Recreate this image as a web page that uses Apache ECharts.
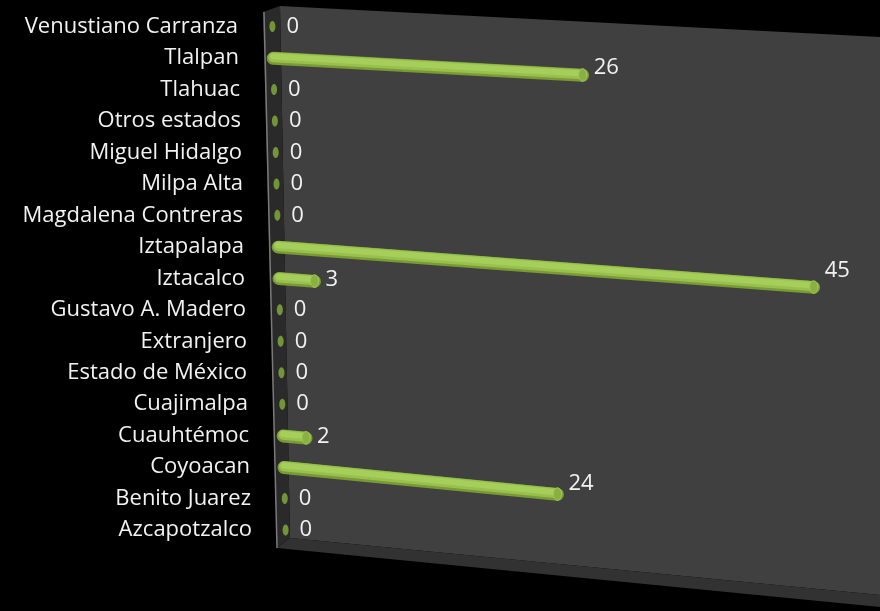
<!DOCTYPE html>
<html>
<head>
<meta charset="utf-8">
<script src="https://cdn.jsdelivr.net/npm/echarts@6/dist/echarts.min.js"></script>
<style>
html,body{margin:0;padding:0;background:#000;}
#chart{width:880px;height:611px;}
</style>
</head>
<body>
<div id="chart"></div>
<script>
// Categories, top to bottom
var categories = ['Venustiano Carranza','Tlalpan','Tlahuac','Otros estados','Miguel Hidalgo','Milpa Alta','Magdalena Contreras','Iztapalapa','Iztacalco','Gustavo A. Madero','Extranjero','Estado de México','Cuajimalpa','Cuauhtémoc','Coyoacan','Benito Juarez','Azcapotzalco'];
var values = [0,26,0,0,0,0,0,45,3,0,0,0,0,2,24,0,0];

var chart = echarts.init(document.getElementById('chart'), null, {renderer:'canvas'});

var labelFont = '"Open Sans", "Noto Sans", sans-serif';
var rich = {};
for (var i = 0; i < categories.length; i++) {
  var t = (i + 0.5) / categories.length;
  rich['r' + i] = {padding: [0, Math.round(14 * (1 - t)), 0, 0], color: '#f2f2f2', fontSize: 22, fontFamily: labelFont};
}

function renderItem(params, api) {
  var val = api.value(0), cat = api.value(1);
  var cs = params.coordSys;
  var p0 = api.coord([0, cat]);
  var p1 = api.coord([val, cat]);
  var yc = p0[1];
  var t = (yc - cs.y) / cs.height;
  var shift = 14 * t;
  var f = t < 0.45 ? 1 : 1 - 0.042 * (t - 0.45) / 0.4;
  var x0 = p0[0] + shift;
  var len = (p1[0] - p0[0]) * f;
  var x1 = x0 + len;
  var slope = 0.050 + 0.057 * t;
  var y1 = yc + slope * len;
  var children = [];
  if (val > 0) {
    children.push({type:'polyline', shape:{points:[[x0,yc+0.3],[x1,y1+0.3]]}, style:{stroke:'#7a9a36', lineWidth:13, lineCap:'round', fill:null}});
    children.push({type:'polyline', shape:{points:[[x0,yc-0.8],[x1,y1-0.8]]}, style:{stroke:'#97c04c', lineWidth:10, lineCap:'round', fill:null}});
    children.push({type:'polyline', shape:{points:[[x0,yc-1.6],[x1,y1-1.6]]}, style:{stroke:'#a5ce5b', lineWidth:6, lineCap:'round', fill:null}});
    children.push({type:'ellipse', shape:{cx:x1, cy:y1, rx:4, ry:6.3}, style:{fill:'#8aaf42', stroke:'#a0c858', lineWidth:1}});
  } else {
    children.push({type:'ellipse', shape:{cx:x0, cy:yc, rx:3, ry:5.5}, style:{fill:'#729637'}});
  }
  var ly = val > 0 ? y1 - 0.4 * (y1 - yc) : yc;
  var lx = val > 0 ? x1 + 11 : x0 + 14;
  children.push({type:'text', style:{text:String(val), x:lx, y:ly, fill:'#f2f2f2', font:'22px ' + labelFont, align:'left', verticalAlign:'middle'}});
  return {type:'group', children:children};
}

var option = {
  backgroundColor: '#000000',
  animation: false,
  graphic: [
    {type:'polygon', z:0, silent:true, shape:{points:[[280,6],[880,37],[880,595],[290,538]]}, style:{fill:'#404040'}},
    {type:'polygon', z:0, silent:true, shape:{points:[[263,12],[280,6],[290,538],[277,548]]}, style:{fill:'#2a2a2a'}},
    {type:'polygon', z:0, silent:true, shape:{points:[[277,548],[290,538],[880,595],[880,607]]}, style:{fill:'#323232'}},
    {type:'polyline', z:0, silent:true, shape:{points:[[264,12],[277,548]]}, style:{stroke:'#7a7a7a', lineWidth:1.5, fill:null}}
  ],
  grid: {left:272, top:10.8, right:13, bottom:65.2, containLabel:false},
  xAxis: {type:'value', min:0, max:50, show:false},
  yAxis: {
    type:'category', data:categories, inverse:true,
    axisLine:{show:false}, axisTick:{show:false}, splitLine:{show:false},
    axisLabel:{
      margin:20, color:'#f2f2f2', fontSize:22, fontFamily:labelFont,
      formatter:function(v, idx){ return '{r' + idx + '|' + v + '}'; },
      rich: rich
    }
  },
  series: [{
    type:'custom',
    renderItem: renderItem,
    encode:{x:0, y:1},
    data: values.map(function(v, i){ return [v, i]; }),
    clip:false,
    z:5
  }]
};
chart.setOption(option);
</script>
</body>
</html>
